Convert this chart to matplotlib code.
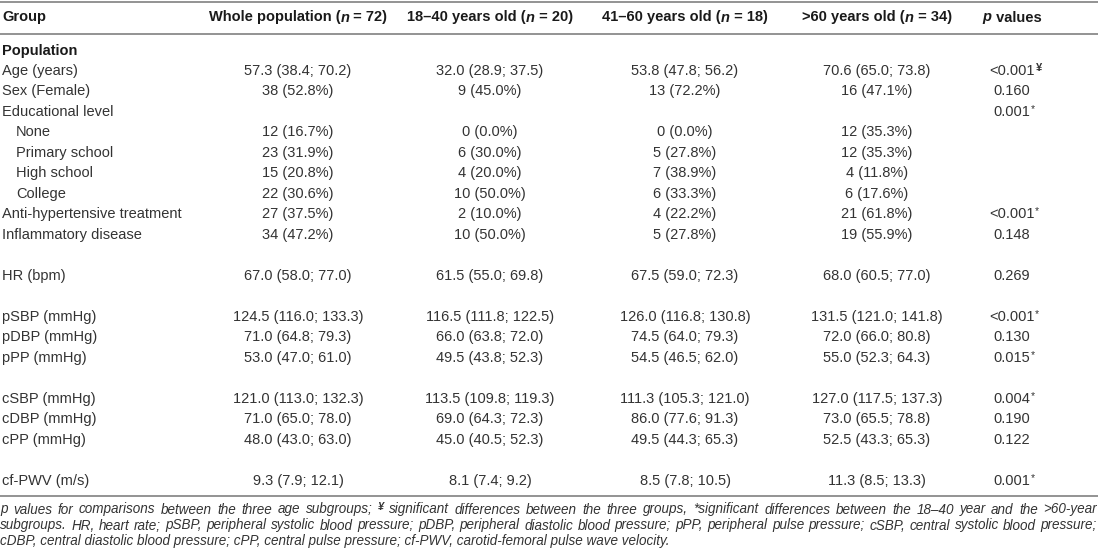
import matplotlib
matplotlib.use("Agg")
import matplotlib.pyplot as plt
from matplotlib import font_manager

plt.rcParams['font.family'] = ['Liberation Sans', 'DejaVu Sans']

# ---------------- data ----------------
headers = ["Whole population", "18\u201340 years old", "41\u201360 years old", ">60 years old"]
header_n = ["72", "20", "18", "34"]

row_labels = ["Age (years)", "Sex (Female)", "Educational level", "None", "Primary school",
              "High school", "College", "Anti-hypertensive treatment", "Inflammatory disease", "",
              "HR (bpm)", "", "pSBP (mmHg)", "pDBP (mmHg)", "pPP (mmHg)", "",
              "cSBP (mmHg)", "cDBP (mmHg)", "cPP (mmHg)", "", "cf-PWV (m/s)"]
indented = ["None", "Primary school", "High school", "College"]

whole = ["57.3 (38.4; 70.2)", "38 (52.8%)", "", "12 (16.7%)", "23 (31.9%)", "15 (20.8%)",
         "22 (30.6%)", "27 (37.5%)", "34 (47.2%)", "", "67.0 (58.0; 77.0)", "",
         "124.5 (116.0; 133.3)", "71.0 (64.8; 79.3)", "53.0 (47.0; 61.0)", "",
         "121.0 (113.0; 132.3)", "71.0 (65.0; 78.0)", "48.0 (43.0; 63.0)", "", "9.3 (7.9; 12.1)"]
g18_40 = ["32.0 (28.9; 37.5)", "9 (45.0%)", "", "0 (0.0%)", "6 (30.0%)", "4 (20.0%)",
          "10 (50.0%)", "2 (10.0%)", "10 (50.0%)", "", "61.5 (55.0; 69.8)", "",
          "116.5 (111.8; 122.5)", "66.0 (63.8; 72.0)", "49.5 (43.8; 52.3)", "",
          "113.5 (109.8; 119.3)", "69.0 (64.3; 72.3)", "45.0 (40.5; 52.3)", "", "8.1 (7.4; 9.2)"]
g41_60 = ["53.8 (47.8; 56.2)", "13 (72.2%)", "", "0 (0.0%)", "5 (27.8%)", "7 (38.9%)",
          "6 (33.3%)", "4 (22.2%)", "5 (27.8%)", "", "67.5 (59.0; 72.3)", "",
          "126.0 (116.8; 130.8)", "74.5 (64.0; 79.3)", "54.5 (46.5; 62.0)", "",
          "111.3 (105.3; 121.0)", "86.0 (77.6; 91.3)", "49.5 (44.3; 65.3)", "", "8.5 (7.8; 10.5)"]
g60 = ["70.6 (65.0; 73.8)", "16 (47.1%)", "", "12 (35.3%)", "12 (35.3%)", "4 (11.8%)",
       "6 (17.6%)", "21 (61.8%)", "19 (55.9%)", "", "68.0 (60.5; 77.0)", "",
       "131.5 (121.0; 141.8)", "72.0 (66.0; 80.8)", "55.0 (52.3; 64.3)", "",
       "127.0 (117.5; 137.3)", "73.0 (65.5; 78.8)", "52.5 (43.3; 65.3)", "", "11.3 (8.5; 13.3)"]
p_values = ["<0.001", "0.160", "0.001", "", "", "", "", "<0.001", "0.148", "", "0.269", "",
            "<0.001", "0.130", "0.015", "", "0.004", "0.190", "0.122", "", "0.001"]
p_marks = ["\u00a5", "", "*", "", "", "", "", "*", "", "", "", "",
           "*", "", "*", "", "*", "", "", "", "*"]

foot1a = "p values for comparisons between the three age subgroups;"
foot1b = "significant differences between the three groups, *significant differences between the 18\u201340 year and the >60-year"
foot2 = ("subgroups. HR, heart rate; pSBP, peripheral systolic blood pressure; pDBP, peripheral diastolic "
         "blood pressure; pPP, peripheral pulse pressure; cSBP, central systolic blood pressure;")
foot3 = "cDBP, central diastolic blood pressure; cPP, central pulse pressure; cf-PWV, carotid-femoral pulse wave velocity."

# ---------------- layout ----------------
W, H = 1100, 558
fig = plt.figure(figsize=(W / 100, H / 100), dpi=100)
ax = fig.add_axes([0, 0, 1, 1])
ax.set_xlim(0, W)
ax.set_ylim(H, 0)
ax.axis("off")
renderer = fig.canvas.get_renderer()

FS = 10.5
BODY = "#333333"
HEAD = "#1a1a1a"
LINE = "#808080"
col_x = [298, 490, 685, 877]
p_x = 1012
label_x = 2
indent_x = 16
header_y = 17
pop_y = 50
pitch = 20.48
first_row_y = pop_y + pitch
base_off = 4.5  # baseline below visual centre


def pieces(x, y, parts, ha="left"):
    arts = []
    for s, kw in parts:
        kw = dict(kw)
        arts.append(ax.text(0, y + kw.pop("dy", 0), s, va="baseline", **kw))
    widths = [a.get_window_extent(renderer).width for a in arts]
    start = x - sum(widths) / 2 if ha == "center" else x
    for a, w in zip(arts, widths):
        a.set_x(start)
        start += w
    return arts


def justified(x0, x1, y, words):
    arts = []
    for s, kw in words:
        kw = dict(kw)
        arts.append(ax.text(0, y + kw.pop("dy", 0), s, va="baseline", **kw))
    widths = [a.get_window_extent(renderer).width for a in arts]
    gap = (x1 - x0 - sum(widths)) / (len(arts) - 1)
    pos = x0
    for a, w in zip(arts, widths):
        a.set_x(pos)
        pos += w + gap


# rules
for yy in (2, 33.5, 496):
    ax.plot([0, 1098], [yy, yy], color=LINE, lw=1.2, solid_capstyle="butt")

# header
hb = dict(fontsize=FS, fontweight="bold", color=HEAD)
ax.text(label_x, header_y + base_off, "Group", va="baseline", **hb)
for x, h, n in zip(col_x, headers, header_n):
    pieces(x, header_y + base_off,
           [(h + " (", hb), ("n", dict(hb, fontstyle="italic")), (" = " + n + ")", hb)],
           ha="center")
pieces(p_x, header_y + base_off,
       [("p", dict(hb, fontstyle="italic")), (" values", hb)], ha="center")

ax.text(label_x, pop_y + base_off, "Population", va="baseline", **hb)

# body
bkw = dict(fontsize=FS, color=BODY)
for i, lab in enumerate(row_labels):
    y = first_row_y + i * pitch + base_off
    if lab:
        ax.text(indent_x if lab in indented else label_x, y, lab, va="baseline", **bkw)
    for x, col in zip(col_x, (whole, g18_40, g41_60, g60)):
        if col[i]:
            ax.text(x, y, col[i], ha="center", va="baseline", **bkw)
    if p_values[i]:
        t = ax.text(p_x, y, p_values[i], ha="center", va="baseline", **bkw)
        if p_marks[i]:
            bb = t.get_window_extent(renderer)
            x_end = p_x + bb.width / 2
            if p_marks[i] == "*":
                ax.text(x_end + 0.5, y - 4, "*", va="baseline", fontsize=FS * 0.7, color=BODY)
            else:
                ax.text(x_end + 1, y - 4, p_marks[i], va="baseline", fontsize=FS * 0.75,
                        color=BODY, fontweight="bold")

# footnote
names = {f.name for f in font_manager.fontManager.ttflist}
foot_family = ["Liberation Sans Narrow", "Liberation Sans"] if "Liberation Sans Narrow" in names \
    else ["Liberation Sans", "DejaVu Sans"]
fkw = dict(fontstyle="italic", color=BODY, family=foot_family)
probe = ax.text(0, 0, foot2, fontsize=10, **fkw)
wprobe = probe.get_window_extent(renderer).width
probe.remove()
FFS = 10 * 1088 / wprobe
f = dict(fkw, fontsize=FFS)
foot_y = [510 + 3.5, 526 + 3.5, 541 + 3.5]
words1 = [(w, f) for w in foot1a.split()] + \
         [("\u00a5", dict(fkw, fontsize=FFS * 0.8, fontweight="bold", dy=-3.5))] + \
         [(w, f) for w in foot1b.split()]
justified(0, 1097, foot_y[0], words1)
justified(0, 1097, foot_y[1], [(w, f) for w in foot2.split()])
ax.text(0, foot_y[2], foot3, va="baseline", **f)

fig.savefig("out.png", dpi=100)
